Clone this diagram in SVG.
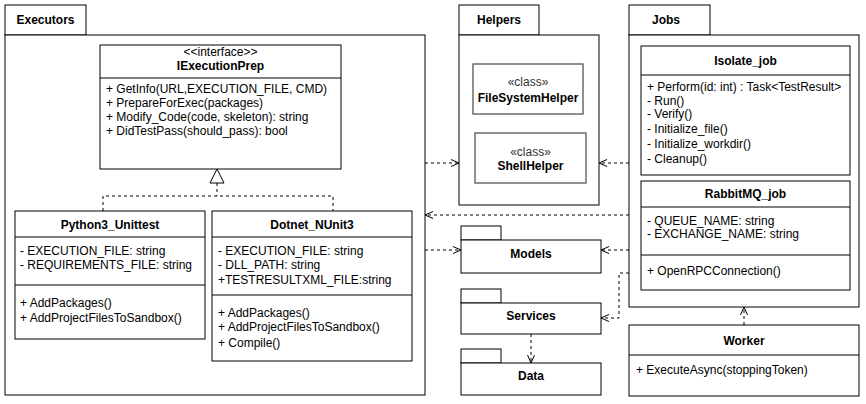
<svg xmlns="http://www.w3.org/2000/svg" width="866" height="404" viewBox="0 0 866 404">
<style>
  text { font-family: "Liberation Sans", Arial, sans-serif; font-size: 12px; fill: #000; }
  .b { font-weight: bold; }
  .c { text-anchor: middle; }
  .box { fill: #fff; stroke: #000; stroke-width: 1; }
  .hbox { fill: #fff; stroke: #555; stroke-width: 1.3; }
  .ln { stroke: #000; stroke-width: 1; fill: none; }
  .dash { stroke: #000; stroke-width: 1; fill: none; stroke-dasharray: 3 3; }
  .st { fill: #333; }
</style>
<defs>
  <marker id="open" markerUnits="userSpaceOnUse" markerWidth="10" markerHeight="10" refX="8" refY="4" orient="auto">
    <path d="M0,0.5 L8,4 L0,7.5" fill="none" stroke="#000" stroke-width="1"/>
  </marker>
</defs>

<!-- Packages -->
<g id="pkg-executors">
  <rect class="box" x="5" y="5" width="81" height="30"/>
  <rect class="box" x="5" y="35" width="420" height="360"/>
  <text class="b c" x="45.5" y="24">Executors</text>
</g>
<g id="pkg-helpers">
  <rect class="box" x="459" y="5" width="80" height="30"/>
  <rect class="box" x="459" y="35" width="140" height="170"/>
  <text class="b c" x="499" y="24">Helpers</text>
</g>
<g id="pkg-jobs">
  <rect class="box" x="629" y="5" width="81" height="30"/>
  <rect class="box" x="629" y="35" width="230" height="272"/>
  <text class="b c" x="666" y="24">Jobs</text>
</g>

<!-- Executors classes -->
<g id="IExecutionPrep">
  <rect class="box" x="100" y="45" width="241" height="124"/>
  <line class="ln" x1="100" y1="78" x2="341" y2="78"/>
  <text class="c" x="220.5" y="56">&lt;&lt;interface&gt;&gt;</text>
  <text class="b c" x="220.5" y="70">IExecutionPrep</text>
  <text x="106" y="93">+ GetInfo(URL,EXECUTION_FILE, CMD)</text>
  <text x="106" y="107">+ PrepareForExec(packages)</text>
  <text x="106" y="121">+ Modify_Code(code, skeleton): string</text>
  <text x="106" y="135">+ DidTestPass(should_pass): bool</text>
</g>
<g id="Python3_Unittest">
  <rect class="box" x="15" y="211" width="190" height="128"/>
  <line class="ln" x1="15" y1="237" x2="205" y2="237"/>
  <line class="ln" x1="15" y1="285" x2="205" y2="285"/>
  <text class="b c" x="110" y="229">Python3_Unittest</text>
  <text x="20" y="255">- EXECUTION_FILE: string</text>
  <text x="20" y="269">- REQUIREMENTS_FILE: string</text>
  <text x="20" y="307">+ AddPackages()</text>
  <text x="20" y="322">+ AddProjectFilesToSandbox()</text>
</g>
<g id="Dotnet_NUnit3">
  <rect class="box" x="212" y="211" width="200" height="150"/>
  <line class="ln" x1="212" y1="237" x2="412" y2="237"/>
  <line class="ln" x1="212" y1="295" x2="412" y2="295"/>
  <text class="b c" x="312" y="229">Dotnet_NUnit3</text>
  <text x="218" y="255">- EXECUTION_FILE: string</text>
  <text x="218" y="269">- DLL_PATH: string</text>
  <text x="218" y="284">+TESTRESULTXML_FILE:string</text>
  <text x="218" y="317">+ AddPackages()</text>
  <text x="218" y="331">+ AddProjectFilesToSandbox()</text>
  <text x="218" y="347">+ Compile()</text>
</g>

<!-- Helpers classes -->
<g id="FileSystemHelper">
  <rect class="hbox" x="473" y="64" width="110" height="50"/>
  <text class="c st" x="528" y="86">«class»</text>
  <text class="b c" x="528" y="102">FileSystemHelper</text>
</g>
<g id="ShellHelper">
  <rect class="hbox" x="475" y="133" width="111" height="50"/>
  <text class="c st" x="530.5" y="156">«class»</text>
  <text class="b c" x="530.5" y="170">ShellHelper</text>
</g>

<!-- Small packages -->
<g id="pkg-models">
  <rect class="box" x="461" y="226" width="40" height="14"/>
  <rect class="box" x="461" y="240" width="140" height="33"/>
  <text class="b c" x="531" y="258">Models</text>
</g>
<g id="pkg-services">
  <rect class="box" x="461" y="289" width="40" height="14"/>
  <rect class="box" x="461" y="303" width="140" height="31"/>
  <text class="b c" x="531" y="320">Services</text>
</g>
<g id="pkg-data">
  <rect class="box" x="461" y="349" width="40" height="14"/>
  <rect class="box" x="461" y="363" width="140" height="32"/>
  <text class="b c" x="531" y="380">Data</text>
</g>

<!-- Jobs classes -->
<g id="Isolate_job">
  <rect class="box" x="641" y="46" width="209" height="129"/>
  <line class="ln" x1="641" y1="75" x2="850" y2="75"/>
  <text class="b c" x="745.5" y="65">Isolate_job</text>
  <text x="647" y="91">+ Perform(id: int) : Task&lt;TestResult&gt;</text>
  <text x="647" y="105">- Run()</text>
  <text x="647" y="118">- Verify()</text>
  <text x="647" y="133">- Initialize_file()</text>
  <text x="647" y="148">- Initialize_workdir()</text>
  <text x="647" y="163">- Cleanup()</text>
</g>
<g id="RabbitMQ_job">
  <rect class="box" x="641" y="181" width="209" height="109"/>
  <line class="ln" x1="641" y1="207" x2="850" y2="207"/>
  <line class="ln" x1="641" y1="255" x2="850" y2="255"/>
  <text class="b c" x="745.5" y="198">RabbitMQ_job</text>
  <text x="647" y="225">- QUEUE_NAME: string</text>
  <text x="647" y="238">- EXCHANGE_NAME: string</text>
  <text x="647" y="275">+ OpenRPCConnection()</text>
</g>
<g id="Worker">
  <rect class="box" x="629" y="325" width="230" height="71"/>
  <line class="ln" x1="629" y1="355" x2="859" y2="355"/>
  <text class="b c" x="744" y="345">Worker</text>
  <text x="636" y="374">+ ExecuteAsync(stoppingToken)</text>
</g>

<!-- Connectors -->
<g id="connectors">
  <path class="dash" d="M217,183 V196"/>
  <path class="dash" d="M103,211 V196 H333 V211"/>
  <path d="M217,169 L224,183 L210,183 Z" fill="#fff" stroke="#000" stroke-width="1"/>
  <path class="dash" d="M425,163 H459" marker-end="url(#open)"/>
  <path class="dash" d="M629,163 H599" marker-end="url(#open)"/>
  <path class="dash" d="M629,215 H425" marker-end="url(#open)"/>
  <path class="dash" d="M425,250 H461" marker-end="url(#open)"/>
  <path class="dash" d="M629,250 H601" marker-end="url(#open)"/>
  <path class="dash" d="M629,273 H619 V318 H601" marker-end="url(#open)"/>
  <path class="dash" d="M531,334 V363" marker-end="url(#open)"/>
  <path class="dash" d="M744,325 V307" marker-end="url(#open)"/>
</g>
</svg>
